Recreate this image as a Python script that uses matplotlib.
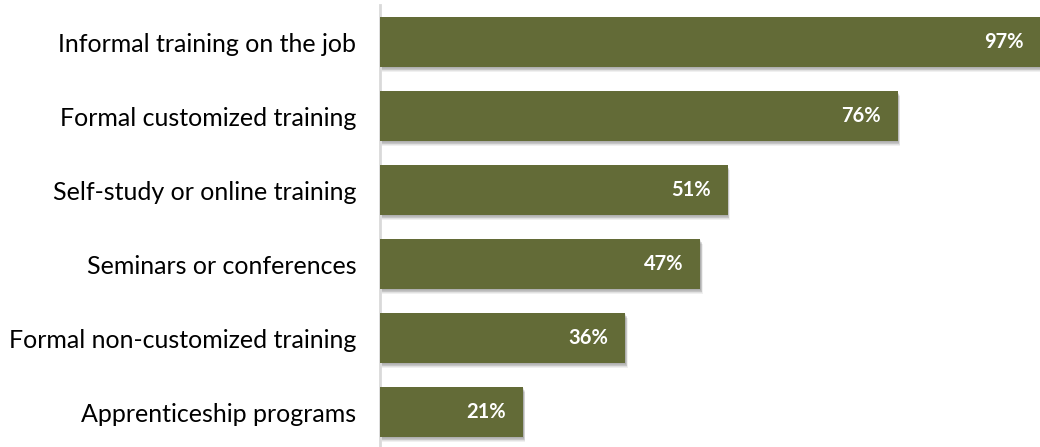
import matplotlib
matplotlib.use('Agg')
import matplotlib.pyplot as plt
from matplotlib.patches import Rectangle

categories = ['Informal training on the job', 'Formal customized training',
              'Self-study or online training', 'Seminars or conferences',
              'Formal non-customized training', 'Apprenticeship programs']
values = [97, 76, 51, 47, 36, 21]

BAR = '#636b37'
plt.rcParams['font.family'] = ['Lato', 'DejaVu Sans']

fig = plt.figure(figsize=(10.4, 4.47), dpi=100)
ax = fig.add_axes([380 / 1040, 0, 661 / 1040, 1])

h = 0.676
# soft drop shadow: stacked offset rectangles
for i, v in enumerate(values):
    for k in range(6):
        d = 0.4 + k * 0.25
        ax.add_patch(Rectangle((d * 0.2, i - h / 2 + d * 0.04), v, h,
                               color='black', alpha=0.06, lw=0, zorder=1))
ax.barh(range(len(values)), values, height=h, color=BAR, zorder=3)

for i, v in enumerate(values):
    ax.text(v - 2.5, i, f'{v}%', color='white', fontweight='bold',
            fontsize=14.5, ha='right', va='center', zorder=4)

ax.set_xlim(0, 97)
ax.set_ylim(5.473, -0.568)
ax.set_yticks(range(len(values)))
ax.set_yticklabels(categories, fontsize=18)
ax.tick_params(axis='y', length=0, pad=17)
ax.set_xticks([])
for s in ['top', 'right', 'bottom']:
    ax.spines[s].set_visible(False)
ax.spines['left'].set_color('#d9d9d9')
ax.spines['left'].set_linewidth(2)
ax.spines['left'].set_bounds(5.473, -0.5)

fig.savefig('out.png', dpi=100)
